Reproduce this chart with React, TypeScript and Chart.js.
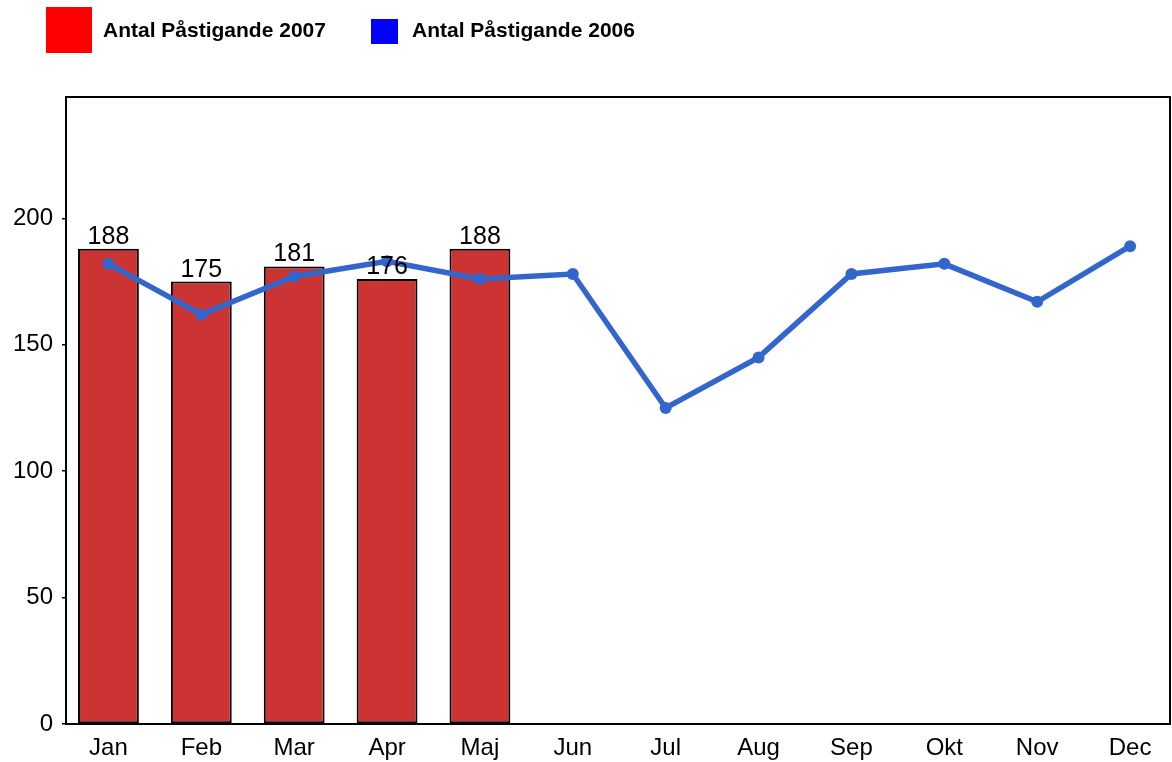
import React, { useEffect, useRef } from "react";
import { Chart, registerables } from "chart.js";

Chart.register(...registerables);

const months = ["Jan", "Feb", "Mar", "Apr", "Maj", "Jun", "Jul", "Aug", "Sep", "Okt", "Nov", "Dec"];
const values2007 = [188, 175, 181, 176, 188];
const values2006 = [182, 162, 177, 183, 176, 178, 125, 145, 178, 182, 167, 189];
const yTicks = [0, 50, 100, 150, 200];
const label2007 = "Antal Påstigande 2007";
const label2006 = "Antal Påstigande 2006";

const FONT = "'Liberation Sans', Arial, sans-serif";

const framePlugin = {
  id: "frame",
  afterDatasetsDraw(chart: any) {
    const { ctx, chartArea } = chart;
    ctx.save();
    ctx.strokeStyle = "#000";
    ctx.lineWidth = 2;
    ctx.strokeRect(chartArea.left, chartArea.top, chartArea.right - chartArea.left, chartArea.bottom - chartArea.top);
    ctx.restore();
  },
};

const labelPlugin = {
  id: "barLabels",
  afterDraw(chart: any) {
    const { ctx } = chart;
    const meta = chart.getDatasetMeta(1);
    ctx.save();
    ctx.fillStyle = "#000";
    ctx.font = `25px ${FONT}`;
    ctx.textAlign = "center";
    ctx.textBaseline = "alphabetic";
    meta.data.forEach((el: any, i: number) => {
      const v = values2007[i];
      if (v === null || v === undefined) return;
      ctx.fillText(String(v), el.x, el.y - 5);
    });
    ctx.restore();
  },
};

export default function App() {
  const ref = useRef<HTMLCanvasElement>(null);
  useEffect(() => {
    if (!ref.current) return;
    const chart = new Chart(ref.current, {
      type: "bar",
      data: {
        datasets: [
          {
            type: "line",
            label: label2006,
            data: values2006.map((v, i) => ({ x: i, y: v })),
            borderColor: "#3366CC",
            backgroundColor: "#3366CC",
            borderWidth: 5.5,
            pointRadius: 6,
            pointBackgroundColor: "#3366CC",
            pointBorderWidth: 0,
            tension: 0,
            order: 0,
          } as any,
          {
            type: "bar",
            label: label2007,
            data: values2007.map((v, i) => ({ x: i, y: v })),
            backgroundColor: "#CC3333",
            borderColor: "#000",
            borderWidth: 2,
            borderSkipped: false,
            barPercentage: 0.655,
            categoryPercentage: 1,
            order: 1,
          } as any,
        ],
      },
      options: {
        responsive: false,
        animation: false,
        layout: { autoPadding: false, padding: { top: 97, right: 2, left: 0, bottom: 0 } },
        plugins: { legend: { display: false }, tooltip: { enabled: false } },
        scales: {
          x: {
            type: "linear",
            offset: false,
            min: -0.457,
            max: 11.43,
            grid: { display: false, offset: false },
            border: { display: false },
            ticks: {
              color: "#000",
              font: { family: FONT, size: 24 },
              padding: 2,
              maxRotation: 0,
              autoSkip: false,
              callback: (v: any) => months[v as number] ?? "",
            },
            afterBuildTicks(scale: any) {
              scale.ticks = months.map((_, i) => ({ value: i }));
            },
            afterFit(scale: any) {
              scale.height = 38;
              scale.paddingLeft = 0;
              scale.paddingRight = 0;
            },
          } as any,
          y: {
            min: 0,
            max: 248,
            grid: { drawOnChartArea: false, drawTicks: true, tickLength: 4, color: "#000", lineWidth: 1.5 },
            border: { display: false },
            ticks: { color: "#000", font: { family: FONT, size: 24 }, padding: 9 },
            afterBuildTicks(scale: any) {
              scale.ticks = yTicks.map((v) => ({ value: v }));
            },
            afterFit(scale: any) {
              scale.width = 66;
            },
          },
        },
      },
      plugins: [framePlugin, labelPlugin],
    });
    return () => chart.destroy();
  }, []);

  const textStyle: React.CSSProperties = {
    position: "absolute",
    fontFamily: FONT,
    fontWeight: "bold",
    fontSize: 21,
    lineHeight: "24px",
    color: "#000",
    whiteSpace: "nowrap",
  };

  return (
    <div style={{ position: "absolute", left: 0, top: 0, width: 1172, height: 762, background: "#fff" }}>
      <canvas ref={ref} width={1172} height={762} style={{ position: "absolute", left: 0, top: 0 }} />
      <div style={{ position: "absolute", left: 46, top: 7, width: 46, height: 46, background: "#FF0000" }} />
      <div style={{ ...textStyle, left: 103, top: 18 }}>{label2007}</div>
      <div style={{ position: "absolute", left: 371, top: 19, width: 27, height: 25, background: "#0000FF" }} />
      <div style={{ ...textStyle, left: 412, top: 18 }}>{label2006}</div>
    </div>
  );
}
